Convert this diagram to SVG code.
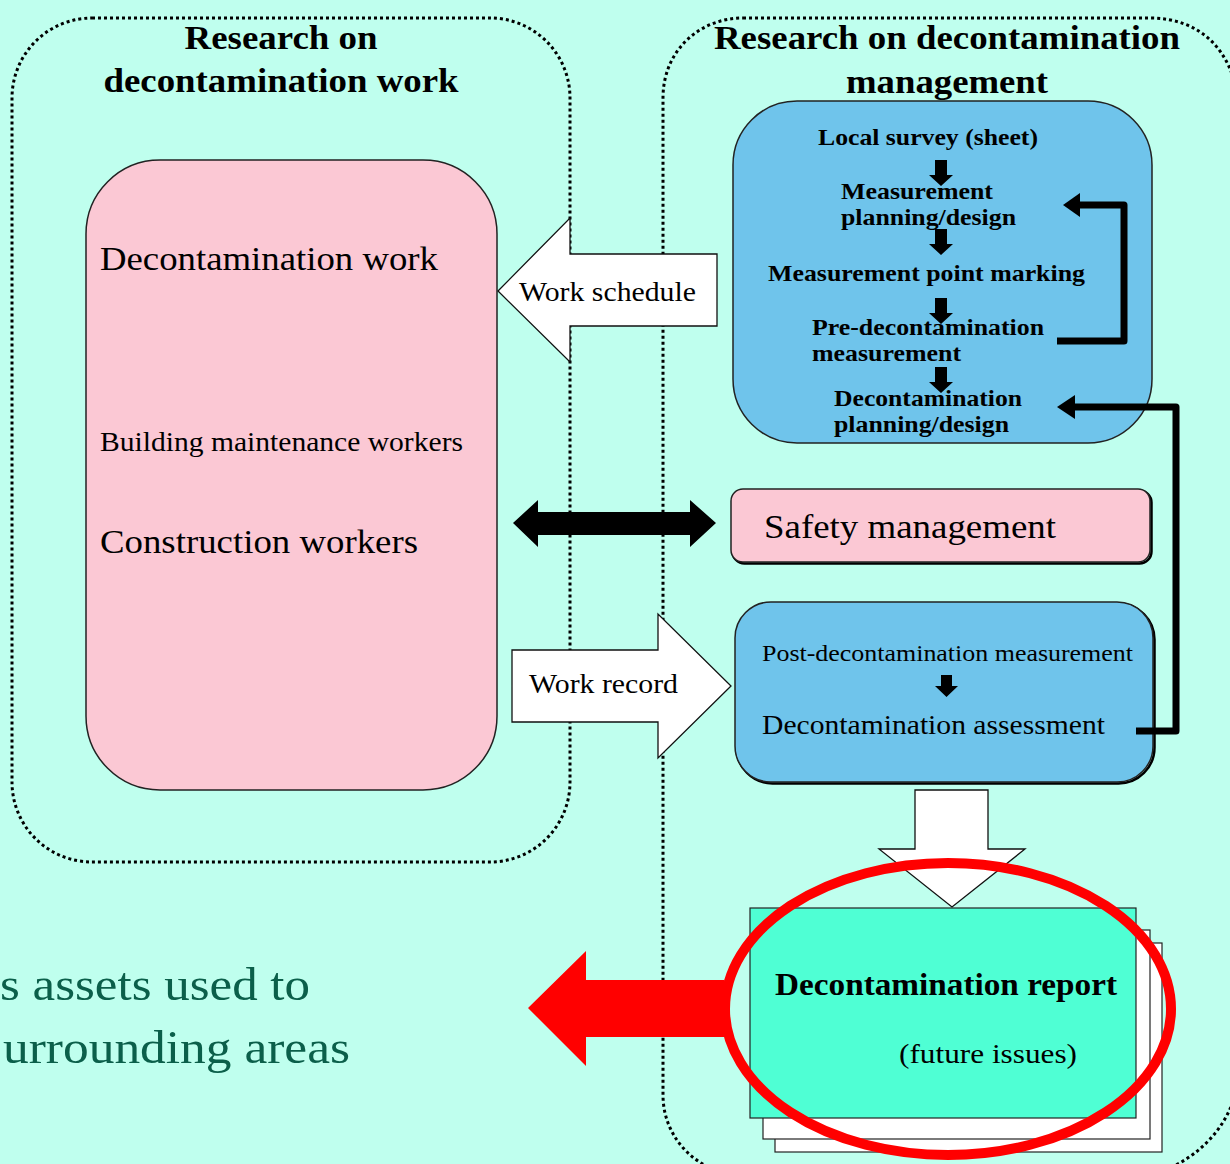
<svg xmlns="http://www.w3.org/2000/svg" width="1230" height="1164" viewBox="0 0 1230 1164">
<defs>
<style>
.dot{fill:none;stroke:#000;stroke-width:3;stroke-dasharray:3 3}
.b{font-weight:bold}
.blue{fill:#6FC4EB;stroke:#222;stroke-width:1.5}
.pink{fill:#FBC8D4;stroke:#222;stroke-width:1.5}
.shadow{fill:none;stroke:#000;stroke-width:2.5}
.white{fill:#fff;stroke:#111;stroke-width:1.3}
.thick{fill:none;stroke:#000;stroke-width:7;stroke-linejoin:round}
</style>
</defs>
<rect width="1230" height="1164" fill="#BFFFEE"/>
<g font-family="'Liberation Serif', 'Times New Roman', Times, serif" fill="#000">

<g id="group-work">
<rect class="dot" x="12" y="18" width="558" height="844" rx="80"/>
<text class="b" x="281" y="49" font-size="33" text-anchor="middle" textLength="193" lengthAdjust="spacingAndGlyphs">Research on</text>
<text class="b" x="281" y="92" font-size="33" text-anchor="middle" textLength="355" lengthAdjust="spacingAndGlyphs">decontamination work</text>
</g>

<g id="group-management">
<path class="dot" d="M743 18 H1150 C1200 18 1232 50 1238 100 V1080 C1232 1130 1190 1165 1150 1175 H743 C700 1175 663 1140 663 1095 V98 C663 50 700 18 743 18 Z"/>
<text class="b" x="947" y="49" font-size="33" text-anchor="middle" textLength="466" lengthAdjust="spacingAndGlyphs">Research on decontamination</text>
<text class="b" x="947" y="93" font-size="33" text-anchor="middle" textLength="202" lengthAdjust="spacingAndGlyphs">management</text>
</g>

<g id="node-work">
<rect class="pink" x="86" y="160" width="411" height="630" rx="74"/>
<text x="100" y="270" font-size="33" textLength="338" lengthAdjust="spacingAndGlyphs">Decontamination work</text>
<text x="100" y="451" font-size="27" textLength="363" lengthAdjust="spacingAndGlyphs">Building maintenance workers</text>
<text x="100" y="553" font-size="33" textLength="318" lengthAdjust="spacingAndGlyphs">Construction workers</text>
</g>

<g id="node-survey">
<rect class="blue" x="733" y="101" width="419" height="342" rx="64"/>
<text class="b" x="818" y="145" font-size="24" textLength="220" lengthAdjust="spacingAndGlyphs">Local survey (sheet)</text>
<text class="b" x="841" y="199" font-size="24" textLength="152" lengthAdjust="spacingAndGlyphs">Measurement</text>
<text class="b" x="841" y="225" font-size="24" textLength="175" lengthAdjust="spacingAndGlyphs">planning/design</text>
<text class="b" x="768" y="281" font-size="24" textLength="317" lengthAdjust="spacingAndGlyphs">Measurement point marking</text>
<text class="b" x="812" y="335" font-size="24" textLength="232" lengthAdjust="spacingAndGlyphs">Pre-decontamination</text>
<text class="b" x="812" y="361" font-size="24" textLength="149" lengthAdjust="spacingAndGlyphs">measurement</text>
<text class="b" x="834" y="406" font-size="24" textLength="188" lengthAdjust="spacingAndGlyphs">Decontamination</text>
<text class="b" x="834" y="432" font-size="24" textLength="175" lengthAdjust="spacingAndGlyphs">planning/design</text>
<polygon points="935,160 947,160 947,175 953,175 941,186 929,175 935,175"/>
<polygon points="935,229 947,229 947,244 953,244 941,255 929,244 935,244"/>
<polygon points="935,298 947,298 947,313 953,313 941,324 929,313 935,313"/>
<polygon points="935,367 947,367 947,382 953,382 941,393 929,382 935,382"/>
</g>

<g id="node-safety">
<rect class="shadow" x="732.5" y="490.5" width="419" height="73" rx="12"/>
<rect class="pink" x="731" y="489" width="419" height="73" rx="12"/>
<text x="764" y="538" font-size="33" textLength="292" lengthAdjust="spacingAndGlyphs">Safety management</text>
</g>

<g id="node-assessment">
<rect class="shadow" x="736.5" y="603.5" width="418" height="180" rx="36"/>
<rect class="blue" x="735" y="602" width="418" height="180" rx="36"/>
<text x="762" y="661" font-size="23" textLength="371" lengthAdjust="spacingAndGlyphs">Post-decontamination measurement</text>
<text x="762" y="734" font-size="27" textLength="343" lengthAdjust="spacingAndGlyphs">Decontamination assessment</text>
<polygon points="941,675 952,675 952,686 958,686 946.5,697 935,686 941,686"/>
</g>

<g id="node-report">
<rect x="775" y="943" width="387" height="209" fill="#fff" stroke="#222" stroke-width="1.2"/>
<rect x="763" y="930" width="387" height="209" fill="#fff" stroke="#222" stroke-width="1.2"/>
<rect x="750" y="908" width="386" height="210" fill="#4FFFD4" stroke="#222" stroke-width="1.2"/>
<text class="b" x="775" y="995" font-size="31" textLength="342" lengthAdjust="spacingAndGlyphs">Decontamination report</text>
<text x="899" y="1063" font-size="27" textLength="178" lengthAdjust="spacingAndGlyphs">(future issues)</text>
</g>

<g id="node-outcome" fill="#0B5F4A">
<text x="0" y="1000" font-size="46" textLength="310" lengthAdjust="spacingAndGlyphs">s assets used to</text>
<text x="3" y="1063" font-size="46" textLength="347" lengthAdjust="spacingAndGlyphs">urrounding areas</text>
</g>

<g id="connectors">
<g id="edge-work-schedule">
<polygon class="white" points="498,291 570,218 570,254 717,254 717,326 570,326 570,362"/>
<text x="519" y="301" font-size="27" textLength="177" lengthAdjust="spacingAndGlyphs">Work schedule</text>
</g>
<g id="edge-safety">
<polygon points="513,523 538,500 538,512 690,512 690,500 716,523 690,547 690,535 538,535 538,547"/>
</g>
<g id="edge-work-record">
<polygon class="white" points="512,650 658,650 658,614 731,686 658,758 658,722 512,722"/>
<text x="529" y="693" font-size="27" textLength="149" lengthAdjust="spacingAndGlyphs">Work record</text>
</g>
<g id="edge-loop-measure">
<polyline class="thick" points="1057,341 1124,341 1124,205 1076,205"/>
<polygon points="1063,205 1080,193 1080,217"/>
</g>
<g id="edge-loop-assess">
<polyline class="thick" points="1136,731 1176,731 1176,407 1072,407"/>
<polygon points="1057,407 1075,395 1075,419"/>
</g>
<g id="edge-to-report">
<polygon class="white" points="915,790 988,790 988,849 1025,849 952,907 879,849 915,849"/>
</g>
<g id="edge-report-out">
<polygon points="528,1008 586,951 586,980 724,980 724,1037 586,1037 586,1066" fill="#FF0000"/>
<ellipse cx="948" cy="1009" rx="223" ry="146" fill="none" stroke="#FF0000" stroke-width="10"/>
</g>
</g>
</g>
</svg>
